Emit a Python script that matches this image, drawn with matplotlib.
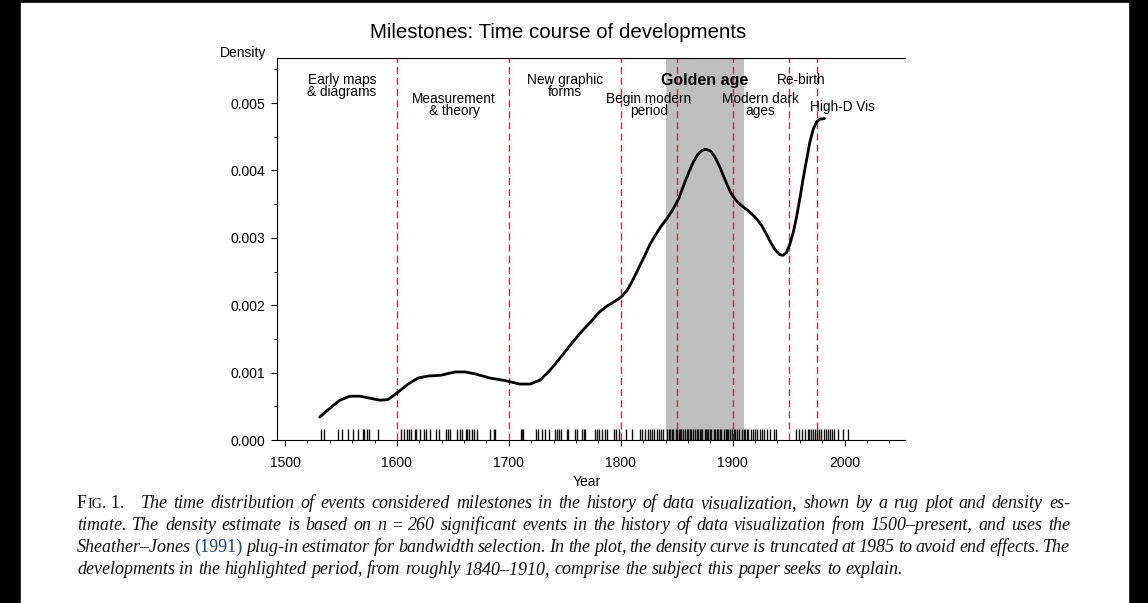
import numpy as np
import matplotlib
matplotlib.use("Agg")
import matplotlib.pyplot as plt
from matplotlib.patches import Rectangle
from matplotlib.ticker import MultipleLocator, FormatStrFormatter
from matplotlib.transforms import IdentityTransform

# density curve (year, density)
curve_year = [1531, 1540, 1549, 1558, 1567, 1576, 1585, 1592, 1601, 1610, 1619, 1628,
              1639, 1652, 1661, 1670, 1683, 1697, 1710, 1719, 1728, 1737, 1746, 1755,
              1764, 1773, 1781, 1788, 1795, 1801, 1806, 1811, 1816, 1821, 1826, 1831,
              1836, 1841, 1847, 1852, 1856, 1861, 1865, 1869, 1872, 1875, 1877, 1880,
              1883, 1886, 1889, 1892, 1895, 1898, 1901, 1905, 1910, 1914, 1918, 1922,
              1926, 1930, 1934, 1938, 1942, 1945, 1948, 1951, 1954, 1957, 1960, 1963,
              1966, 1969, 1972, 1975, 1978, 1982]
curve_dens = [0.00034, 0.00047, 0.00059, 0.00065, 0.00065, 0.00062, 0.00059, 0.00060,
              0.00071, 0.00083, 0.00092, 0.00095, 0.00096, 0.00101, 0.00101, 0.00098,
              0.00092, 0.00088, 0.00083, 0.00083, 0.00089, 0.00104, 0.00122, 0.00141,
              0.00159, 0.00175, 0.00190, 0.00199, 0.00206, 0.00213, 0.00223, 0.00238,
              0.00255, 0.00272, 0.00290, 0.00304, 0.00317, 0.00328, 0.00343, 0.00359,
              0.00377, 0.00398, 0.00413, 0.00424, 0.00429, 0.00431, 0.00431, 0.00429,
              0.00423, 0.00414, 0.00403, 0.00391, 0.00379, 0.00368, 0.00360, 0.00352,
              0.00345, 0.00340, 0.00334, 0.00327, 0.00318, 0.00306, 0.00293, 0.00282,
              0.00275, 0.00274, 0.00278, 0.00290, 0.00307, 0.00330, 0.00358, 0.00388,
              0.00415, 0.00442, 0.00461, 0.00472, 0.00476, 0.00477]

# rug: years of the milestone events
events = [1532, 1535, 1547, 1551, 1556, 1561, 1565, 1570, 1571, 1573, 1575, 1583,
          1604, 1606, 1609, 1611, 1613, 1616, 1617, 1621, 1624, 1626, 1630, 1635,
          1638, 1644, 1646, 1647, 1654, 1656, 1658, 1662, 1663, 1664, 1667, 1669,
          1672, 1683, 1687, 1688, 1711, 1712, 1713, 1724, 1726, 1730, 1732, 1736,
          1741, 1743, 1745, 1747, 1752, 1753, 1759, 1761, 1765, 1767, 1768, 1777,
          1779, 1781, 1783, 1786, 1788, 1794, 1796, 1798, 1805, 1810, 1817, 1819,
          1822, 1824, 1826, 1828, 1830, 1832, 1834, 1836, 1838, 1841, 1843, 1844,
          1846, 1847, 1849, 1850, 1852, 1853, 1854, 1856, 1857, 1859, 1860, 1862,
          1863, 1865, 1866, 1868, 1869, 1871, 1872, 1873, 1875, 1876, 1877, 1878,
          1880, 1881, 1883, 1884, 1886, 1887, 1889, 1890, 1892, 1894, 1895, 1896,
          1898, 1899, 1901, 1902, 1904, 1906, 1908, 1910, 1911, 1913, 1914, 1916,
          1918, 1920, 1922, 1924, 1926, 1928, 1931, 1933, 1937, 1939, 1957, 1959,
          1962, 1965, 1967, 1968, 1970, 1972, 1974, 1975, 1977, 1979, 1982, 1983,
          1985, 1987, 1989, 1991, 1994, 1999, 2003]

# period boundaries and highlighted "golden age"
boundaries = [1600, 1700, 1800, 1850, 1900, 1950, 1975]
golden = [1840, 1910]

period_labels = ["Early maps\n& diagrams", "Measurement\n& theory", "New graphic\nforms",
                 "Begin modern\nperiod", "Golden age", "Re-birth",
                 "Modern dark\nages", "High-D Vis"]

caption = [
    "The time distribution of events considered milestones in the history of data visualization, shown by a rug plot and density es-",
    "timate. The density estimate is based on n = 260 significant events in the history of data visualization from 1500\u2013present, and uses the",
    "Sheather\u2013Jones (1991) plug-in estimator for bandwidth selection. In the plot, the density curve is truncated at 1985 to avoid end effects. The",
    "developments in the highlighted period, from roughly 1840\u20131910, comprise the subject this paper seeks to explain.",
]

W, H = 1148, 603
fig = plt.figure(figsize=(W / 100, H / 100), dpi=100)
fig.patch.set_facecolor("black")
fig.patches.append(Rectangle((21 / W, 0), (1128 - 21) / W, 1 - 3 / H,
                             transform=fig.transFigure, color="white", zorder=-10))

sans = "Liberation Sans"
ax = fig.add_axes([277 / W, 1 - 440 / H, (905 - 277) / W, (440 - 58) / H])
ax.set_xlim(1492.85, 2054)
ax.set_ylim(0, 0.005668)

ax.axvspan(golden[0], golden[1], color="#bebebe", lw=0, zorder=0)
for b in boundaries:
    ax.axvline(b, color="#cc2a44", lw=1.0, dashes=(5, 3), zorder=1)
ax.vlines(events, 0, 0.00017, color="#111111", lw=1.0, zorder=2)
ax.plot(curve_year, curve_dens, color="black", lw=2.0, solid_capstyle="round",
        solid_joinstyle="round", zorder=3)

label_pos = [(1551, 0.00525), (1651, 0.00497), (1750, 0.00525), (1825, 0.00497),
             (1875, 0.00534), (1961, 0.00534), (1925, 0.00497), (1998, 0.00494)]
for lab, (lx, ly) in zip(period_labels, label_pos):
    bold = lab == "Golden age"
    ax.text(lx, ly, lab, ha="center", va="center", family=sans,
            fontsize=11.5 if bold else 9.8, fontweight="bold" if bold else "normal",
            linespacing=0.82, zorder=4)

for s in ["left", "top", "bottom"]:
    ax.spines[s].set_linewidth(0.8)
ax.spines["right"].set_visible(False)
ax.set_xticks(range(1500, 2001, 100))
ax.xaxis.set_minor_locator(MultipleLocator(20))
ax.yaxis.set_major_locator(MultipleLocator(0.001))
ax.yaxis.set_minor_locator(MultipleLocator(0.0005))
ax.yaxis.set_major_formatter(FormatStrFormatter("%.3f"))
ax.tick_params(which="major", length=4.5, width=0.8, labelsize=10, pad=4)
ax.tick_params(axis="x", which="major", pad=7)
ax.tick_params(which="minor", length=2, width=0.6)
for t in ax.get_xticklabels() + ax.get_yticklabels():
    t.set_family(sans)

fig.text(558 / W, 1 - 32 / H, "Milestones: Time course of developments", ha="center",
         va="center", family=sans, fontsize=14.8)
fig.text(243 / W, 1 - 53 / H, "Density", ha="center", va="center", family=sans, fontsize=10)
fig.text(587 / W, 1 - 482 / H, "Year", ha="center", va="center", family=sans, fontsize=10)

# caption, justified word by word
renderer = fig.canvas.get_renderer()
px = IdentityTransform()


def width(txt, kw):
    t = fig.text(0, 0, txt, transform=px, **kw)
    w = t.get_window_extent(renderer).width
    t.remove()
    return w


x_left, x_right = 77, 1070
baselines = [508, 530, 552, 574]

fs = 13.5
while True:
    ital = dict(family="Liberation Serif", style="italic", fontsize=fs, color="#111111")
    roman = dict(family="Liberation Serif", style="normal", fontsize=fs, color="#111111")
    fig_prefix = [("F", roman), ("IG", dict(roman, fontsize=fs * 0.78)), (". 1.", roman)]

    def word_pieces(w):
        if w == "(1991)":
            return [(w, dict(roman, color="#1f3c88"))]
        if w == "=":
            return [(w, roman)]
        return [(w, ital)]

    layout = []
    min_gap = 1e9
    for i, line in enumerate(caption):
        x0 = x_left
        if i == 0:
            x0 += sum(width(t, k) for t, k in fig_prefix) + 16
        words = [word_pieces(w) for w in line.split(" ")]
        widths = [sum(width(t, k) for t, k in wp) for wp in words]
        if i < len(caption) - 1:
            gap = (x_right - x0 - sum(widths)) / (len(words) - 1)
            min_gap = min(min_gap, gap)
        else:
            gap = width("a b", ital) - width("ab", ital)
        layout.append((x0, words, widths, gap))
    if min_gap >= 3 or fs < 9:
        break
    fs -= 0.25


def draw_word(x, y, pieces):
    for txt, kw in pieces:
        fig.text(x, y, txt, transform=px, va="baseline", **kw)
        x += width(txt, kw)


x = x_left
y = H - baselines[0]
draw_word(x, y, fig_prefix)
for i, (x0, words, widths, gap) in enumerate(layout):
    y = H - baselines[i]
    x = x0
    for wp, ww in zip(words, widths):
        draw_word(x, y, wp)
        x += ww + gap

fig.savefig("out.png", dpi=100, facecolor=fig.get_facecolor())
